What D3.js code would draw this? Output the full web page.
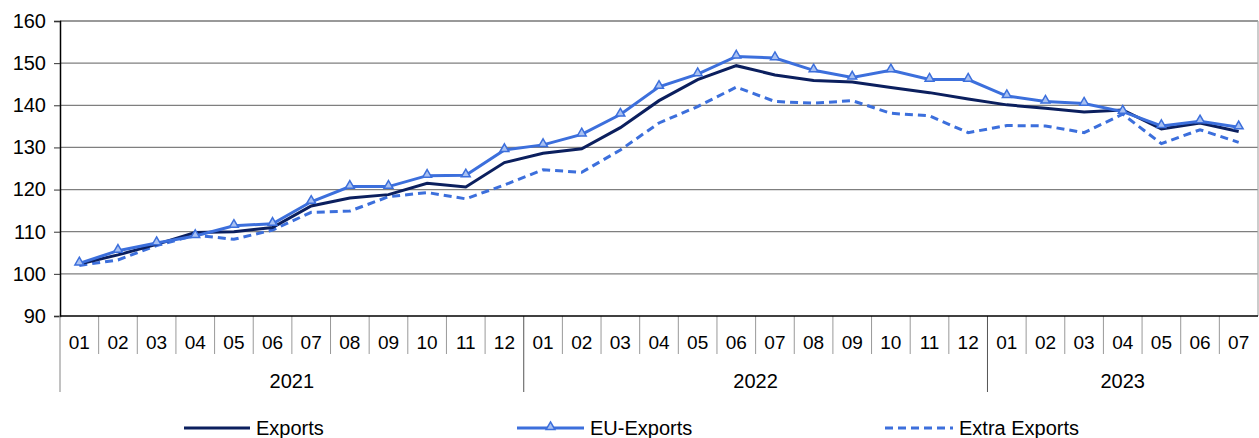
<!DOCTYPE html>
<html><head><meta charset="utf-8">
<script src="https://cdn.jsdelivr.net/npm/d3@7"></script>
<style>body{margin:0;background:#fff}svg{display:block;font-family:"Liberation Sans",Arial,sans-serif}</style>
</head><body><svg id="c" width="1259" height="438"></svg>
<script>
const years = ["2021","2022","2023"];
const monthsPerYear = [12,12,7];
const monthLabels = ["01","02","03","04","05","06","07","08","09","10","11","12"];
const exportsVals = [102.3,104.5,107.0,109.8,110.0,111.0,116.1,118.0,118.8,121.5,120.6,126.4,128.6,129.7,134.7,141.1,146.1,149.4,147.2,145.9,145.5,144.2,143.0,141.5,140.1,139.3,138.4,138.9,134.4,135.8,133.8];
const euVals = [102.5,105.5,107.3,109.0,111.4,111.9,117.1,120.7,120.7,123.3,123.4,129.4,130.6,133.1,137.8,144.4,147.4,151.6,151.2,148.3,146.6,148.3,146.1,146.1,142.2,140.9,140.4,138.5,135.1,136.2,134.8];
const extraVals = [102.0,103.3,106.7,109.2,108.2,110.4,114.6,114.9,118.3,119.3,117.8,121.1,124.7,124.1,129.4,135.8,139.7,144.3,140.9,140.5,141.1,138.1,137.5,133.5,135.2,135.1,133.5,137.9,130.9,134.2,131.2];
const yTicks = [90,100,110,120,130,140,150,160];

const cats = [];
years.forEach((y,yi)=>{for(let m=0;m<monthsPerYear[yi];m++)cats.push({year:y,month:monthLabels[m],key:y+"-"+monthLabels[m]});});

const svg = d3.select("#c");
const L=60,R=1258,T=21,B=316;
const x = d3.scaleBand().domain(cats.map(d=>d.key)).range([L,R]).paddingInner(0).paddingOuter(0);
const y = d3.scaleLinear().domain([90,160]).range([B,T]);
const cx = k => x(k)+x.bandwidth()/2;

// gridlines
svg.append("g").selectAll("line").data(yTicks.filter(v=>v>90)).join("line")
  .attr("x1",L).attr("x2",R).attr("y1",d=>y(d)).attr("y2",d=>y(d))
  .attr("stroke",d=>d===160?"#999":"#7f7f7f").attr("stroke-width",d=>d===160?2:1.2);
// right border
svg.append("line").attr("x1",R).attr("x2",R).attr("y1",T).attr("y2",B).attr("stroke","#aaa").attr("stroke-width",1.2);

// y axis
const yAxis = d3.axisLeft(y).tickValues(yTicks).tickSize(6).tickPadding(8);
const gy = svg.append("g").attr("transform",`translate(${L},0)`).call(yAxis);
gy.select(".domain").attr("stroke","#000").attr("stroke-width",1.5);
gy.selectAll(".tick line").attr("stroke","#333");
gy.selectAll("text").attr("font-size",20).attr("fill","#000").attr("font-family","'Liberation Sans',Arial,sans-serif");

// x axis separators
const g = svg.append("g");
cats.forEach((d,i)=>{
  if(i===0) return;
  const xx = x(d.key);
  const isYear = d.month==="01";
  g.append("line").attr("x1",xx).attr("x2",xx).attr("y1",B).attr("y2",isYear?392:354)
   .attr("stroke",isYear?"#555":"#999").attr("stroke-width",1);
});
g.append("line").attr("x1",L).attr("x2",L).attr("y1",B).attr("y2",392).attr("stroke","#999").attr("stroke-width",1.2);
g.append("line").attr("x1",L).attr("x2",R).attr("y1",B).attr("y2",B).attr("stroke","#000").attr("stroke-width",1.5);
g.selectAll("text.m").data(cats).join("text").attr("class","m")
  .attr("x",d=>cx(d.key)).attr("y",349).attr("text-anchor","middle").attr("font-size",19).attr("fill","#000").text(d=>d.month);
years.forEach((yr,yi)=>{
  const ks = cats.filter(c=>c.year===yr);
  const x0 = x(ks[0].key), x1 = x(ks[ks.length-1].key)+x.bandwidth();
  g.append("text").attr("x",(x0+x1)/2).attr("y",388).attr("text-anchor","middle").attr("font-size",20).attr("fill","#000").text(yr);
});

// lines
const line = d3.line().x((d,i)=>cx(cats[i].key)).y(d=>y(d));
const cNavy="#0b1f5e", cBlue="#3c6fdc";
svg.append("path").datum(extraVals).attr("d",line).attr("fill","none").attr("stroke",cBlue).attr("stroke-width",3).attr("stroke-dasharray","8,5");
svg.append("path").datum(exportsVals).attr("d",line).attr("fill","none").attr("stroke",cNavy).attr("stroke-width",3);
svg.append("path").datum(euVals).attr("d",line).attr("fill","none").attr("stroke",cBlue).attr("stroke-width",3);
const tri = d3.symbol().type(d3.symbolTriangle).size(34);
svg.append("g").selectAll("path").data(euVals).join("path")
  .attr("transform",(d,i)=>`translate(${cx(cats[i].key)},${y(d)-1})`).attr("d",tri)
  .attr("fill","#a9c1f2").attr("stroke",cBlue).attr("stroke-width",1.5);

// legend
const lg = svg.append("g");
const items=[{n:"Exports",x1:184,x2:250,c:cNavy,dash:null,m:false},{n:"EU-Exports",x1:517,x2:584,c:cBlue,dash:null,m:true},{n:"Extra Exports",x1:885,x2:953,c:cBlue,dash:"8,5",m:false}];
items.forEach(it=>{
  lg.append("line").attr("x1",it.x1).attr("x2",it.x2).attr("y1",428).attr("y2",428).attr("stroke",it.c).attr("stroke-width",3).attr("stroke-dasharray",it.dash);
  if(it.m) lg.append("path").attr("transform",`translate(${(it.x1+it.x2)/2},427)`).attr("d",tri).attr("fill","#a9c1f2").attr("stroke",cBlue).attr("stroke-width",1.5);
  lg.append("text").attr("x",it.x2+6).attr("y",435).attr("font-size",20).attr("fill","#000").text(it.n);
});
</script></body></html>
